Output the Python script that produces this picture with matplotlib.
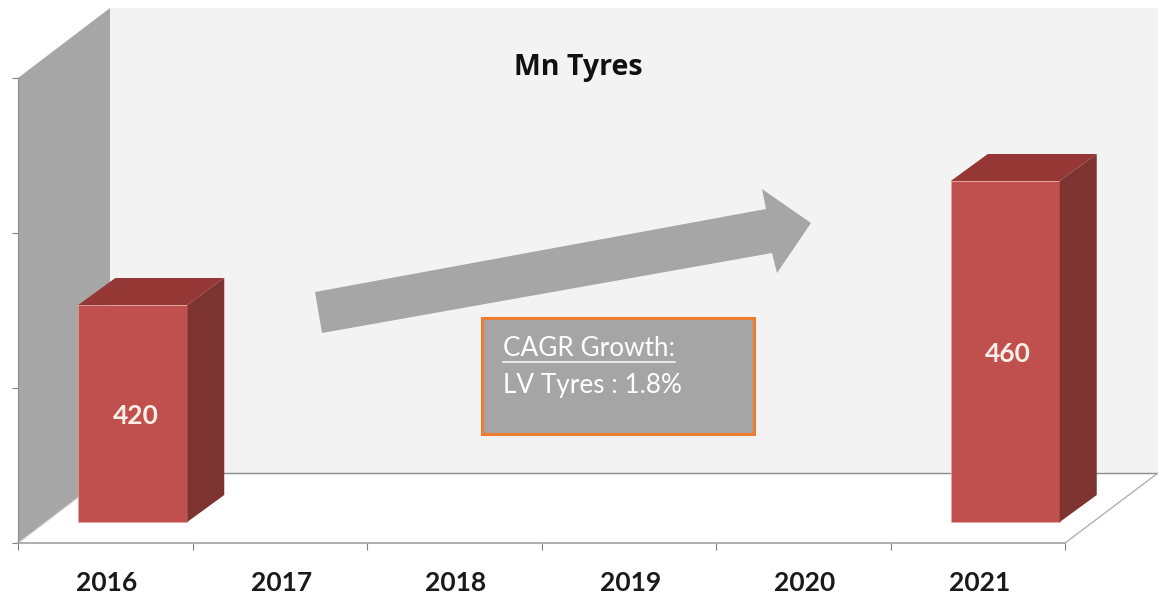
import numpy as np
import matplotlib
matplotlib.use('Agg')
import matplotlib.pyplot as plt
from matplotlib.patches import Polygon, Rectangle
from matplotlib.transforms import Affine2D

plt.rcParams['font.family'] = ['Lato', 'DejaVu Sans']

# Datos
years = ['2016', '2017', '2018', '2019', '2020', '2021']
bar_pos = [0, 5]
bar_vals = [420, 460]
y_ticks = [350, 400, 450, 500]
title = 'Mn Tyres'
box_lines = ['CAGR Growth:', 'LV Tyres : 1.8%']

W, H = 1158, 596
fig = plt.figure(figsize=(W/100, H/100), dpi=100, facecolor='white')

# Fondo en pixeles (paredes, piso, flecha y caja)
bg = fig.add_axes([0, 0, 1, 1], zorder=0)
bg.set_xlim(0, W)
bg.set_ylim(H, 0)
bg.axis('off')

bg.add_patch(Polygon([(110, 8), (1158, 8), (1158, 473), (110, 473)], fc='#f3f3f3', ec='none'))
bg.add_patch(Polygon([(18, 78), (110, 8), (110, 473), (18, 543)], fc='#a6a6a6', ec='none'))
bg.plot([110, 1158], [473, 473], c='#8c8c8c', lw=1)
bg.plot([1065, 1158], [543, 473], c='#b0b0b0', lw=1)
bg.plot([18, 110], [543, 473], c='#c8c8c8', lw=0.8)

# Flecha
bg.add_patch(Polygon([(315, 292), (766, 209), (762, 189), (811, 223),
                      (777, 273), (772, 253), (322, 333)], fc='#a6a6a6', ec='none'))

# Caja de texto
bg.add_patch(Rectangle((482, 318), 272, 116, fc='#a5a5a5', ec='#ed7d31', lw=2.2))
bg.text(503, 356, box_lines[0], color='white', fontsize=18.8, va='baseline', ha='left')
bg.plot([503, 675], [361.5, 361.5], c='white', lw=1.1)
bg.text(503, 393, box_lines[1], color='white', fontsize=18.8, va='baseline', ha='left')
bg.text(578, 67, title, color='#111111', fontsize=20.5, fontweight='bold', ha='center', va='center',
        family=['Open Sans', 'DejaVu Sans'])

# Ejes principales
ax = fig.add_axes([18/W, (H-543)/H, 1047/W, 465/H], zorder=1)
ax.patch.set_alpha(0)
ax.set_xlim(-0.5, 5.5)
ax.set_ylim(350, 500)
for s in ['top', 'right']:
    ax.spines[s].set_visible(False)
ax.spines['left'].set_color('#8c8c8c')
ax.spines['left'].set_linewidth(0.8)
ax.spines['bottom'].set_color('#a0a0a0')
ax.spines['bottom'].set_linewidth(1.2)

ax.set_yticks(y_ticks)
ax.set_yticklabels([])
ax.tick_params(axis='y', length=4, width=0.8, color='#808080')
ax.set_xticks(np.arange(-0.5, 6, 1))
ax.set_xticklabels([])
ax.tick_params(axis='x', which='major', length=5, width=0.8, color='#808080')
ax.set_xticks(np.arange(len(years)) + 0.01, minor=True)
ax.set_xticklabels(years, minor=True, fontsize=19, fontweight='bold', color='#1a1a1a')
ax.tick_params(axis='x', which='minor', length=0, pad=20)

# Barras 3D: cara frontal corrida hacia adentro del piso
shift = Affine2D().translate(27.5, 21)
tr = ax.transData + shift
bar_w = 109/174.5
dx = 37/174.5
dy = 27/3.1
for p, v in zip(bar_pos, bar_vals):
    ax.bar(p, v-350, bottom=350, width=bar_w, color='#c0504d', transform=tr,
           edgecolor='#e8a89f', linewidth=0.5, zorder=3, clip_on=False)
    l, r = p-bar_w/2, p+bar_w/2
    ax.add_patch(Polygon([(l, v), (r, v), (r+dx, v+dy), (l+dx, v+dy)], fc='#953735', ec='none',
                         transform=tr, zorder=3, clip_on=False))
    ax.add_patch(Polygon([(r, 350), (r+dx, 350+dy), (r+dx, v+dy), (r, v)], fc='#7d3330', ec='none',
                         transform=tr, zorder=3, clip_on=False))
    ax.text(p+0.016, (v+350)/2-0.8, str(v), transform=tr, color='#fdeee8', fontsize=19, fontweight='bold',
            ha='center', va='center', zorder=4)

fig.savefig('out.png', dpi=100)
